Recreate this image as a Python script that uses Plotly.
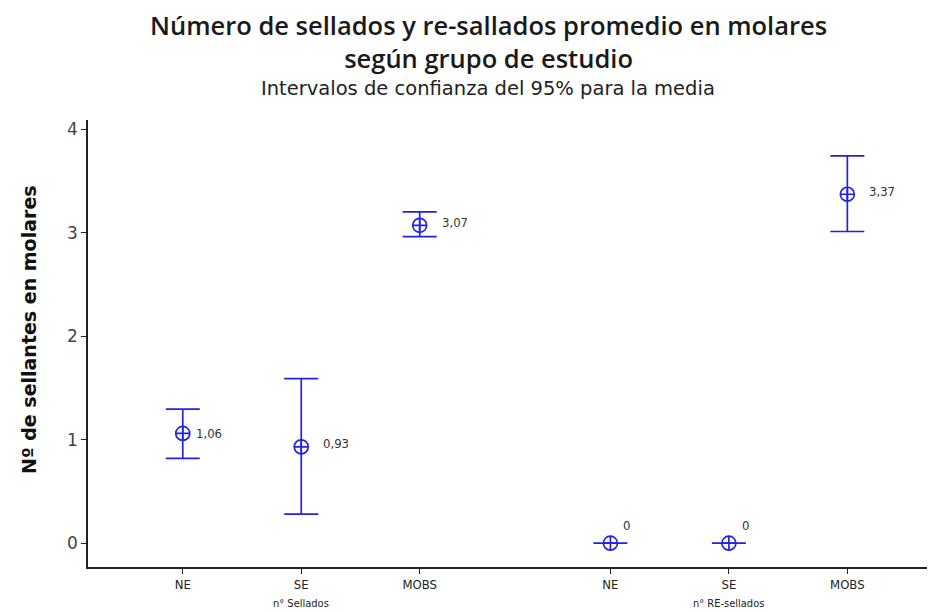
import plotly.graph_objects as go

categories = ["NE", "SE", "MOBS", "NE", "SE", "MOBS"]
groups = ["n° Sellados", "n° Sellados", "n° Sellados", "n° RE-sellados", "n° RE-sellados", "n° RE-sellados"]
means = [1.06, 0.93, 3.07, 0.0, 0.0, 3.37]
ci_upper = [1.295, 1.59, 3.20, 0.0, 0.0, 3.74]
ci_lower = [0.82, 0.28, 2.96, 0.0, 0.0, 3.01]
labels = ["1,06", "0,93", "3,07", "0", "0", "3,37"]

# x positions: index within group plus a gap between groups
group_order = ["n° Sellados", "n° RE-sellados"]
xpos = []
for i, g in enumerate(groups):
    gi = group_order.index(g)
    xpos.append(i + gi * 0.61)

blue = "#2222e6"
err_plus = [u - m for u, m in zip(ci_upper, means)]
err_minus = [m - l for m, l in zip(means, ci_lower)]

# page body has an 8px margin: lay the figure out in screen pixels minus that offset
OFF = 8
W, H = 935 - OFF, 612 - OFF
L, T, R, B = 88 - OFF, 120 - OFF, 0, 612 - 567
PW, PH = W - L - R, H - T - B


def sx(px):
    return (px - OFF - L) / PW


def sy(py):
    return 1 - (py - OFF - T) / PH


fig = go.Figure()
fig.add_trace(go.Scatter(
    x=xpos, y=means, mode="markers",
    marker=dict(symbol="circle-cross-open", size=14, color=blue, line=dict(width=1.7, color=blue)),
    error_y=dict(type="data", symmetric=False, array=err_plus, arrayminus=err_minus,
                 color=blue, thickness=1.7, width=17),
    showlegend=False, cliponaxis=False,
))

annotations = [
    dict(text="Número de sellados y re-sallados promedio en molares<br>según grupo de estudio",
         x=sx(488), y=sy(41), xref="paper", yref="paper", showarrow=False, yanchor="middle", xanchor="center",
         font=dict(family="Open Sans", size=25.5, weight=600, color="#1a1a1a")),
    dict(text="Intervalos de confianza del 95% para la media", x=sx(488), y=sy(88),
         xref="paper", yref="paper", showarrow=False, yanchor="middle", xanchor="center",
         font=dict(family="DejaVu Sans", size=19.5, color="#222222")),
]

# value labels next to each mean
for x, m, lab in zip(xpos, means, labels):
    if m == 0:
        xs, ys = 11, 18
    elif lab == "1,06":
        xs, ys = 11, 0
    else:
        xs, ys = 20, 3
    annotations.append(dict(text=lab, x=x, y=m, xref="x", yref="y", showarrow=False,
                            xanchor="left", yanchor="middle", xshift=xs, yshift=ys,
                            font=dict(family="DejaVu Sans Condensed, DejaVu Sans", size=13, color="#333333")))

for g in group_order:
    xs = [x for x, gg in zip(xpos, groups) if gg == g]
    annotations.append(dict(text=g, x=sum(xs) / len(xs), y=sy(603), xref="x", yref="paper",
                            showarrow=False, yanchor="middle",
                            font=dict(family="DejaVu Sans Condensed, DejaVu Sans", size=11, color="#222222")))

annotations.append(dict(text="<b>Nº de sellantes en molares</b>", x=sx(29), y=sy(330), xref="paper", yref="paper",
                        showarrow=False, textangle=-90, xanchor="center", yanchor="middle",
                        font=dict(family="DejaVu Sans", size=19, color="#111111")))

fig.update_layout(
    width=W, height=H,
    margin=dict(l=L, r=R, t=T, b=B, pad=0, autoexpand=False),
    paper_bgcolor="white", plot_bgcolor="white",
    annotations=annotations,
    font=dict(family="DejaVu Sans", color="#222222"),
    xaxis=dict(range=[-0.8, 6.35], tickvals=xpos, ticktext=categories, showgrid=False, zeroline=False,
               showline=True, linecolor="#222222", linewidth=1.5, ticks="outside", ticklen=5,
               tickcolor="#222222", automargin=False,
               tickfont=dict(family="DejaVu Sans Condensed, DejaVu Sans", size=13, color="#222222")),
    yaxis=dict(range=[-0.23, 4.087], tickvals=[0, 1, 2, 3, 4], showgrid=False, zeroline=False,
               showline=True, linecolor="#222222", linewidth=1.5, ticks="outside", ticklen=5,
               tickcolor="#222222", automargin=False,
               tickfont=dict(family="DejaVu Sans", size=17, color="#444444")),
)

fig.write_html("out.html")
